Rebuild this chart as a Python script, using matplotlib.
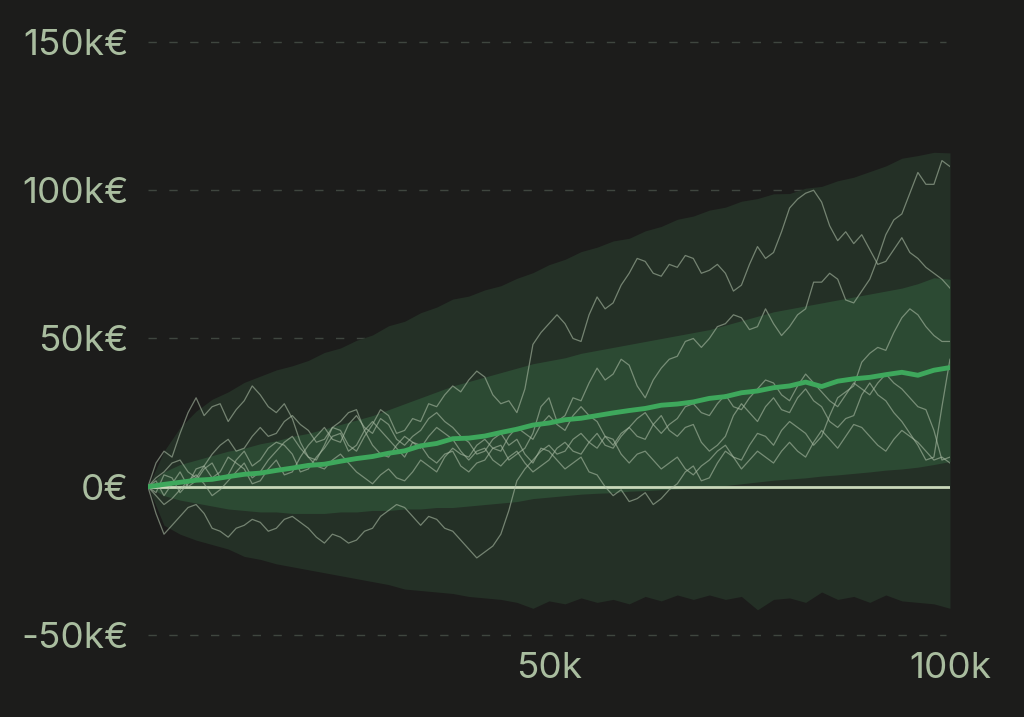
import matplotlib
matplotlib.use("Agg")
import matplotlib.pyplot as plt
from matplotlib.ticker import FuncFormatter

# x positions (thousands): bands / mean every 2k, sample paths every 1k
steps = list(range(0, 101, 2))
walk_x = list(range(0, 101))

# percentile bands (k€)
outer_hi = [0, 12, 20, 25.5, 29.5, 32, 35.2, 37.3, 39.4, 40.8, 42.6, 45.3, 46.8, 49.4, 51.2, 54.3,
            55.8, 58.7, 60.6, 63.3, 64.3, 66.4, 67.8, 70.3, 72.2, 74.9, 76.7, 79.3, 80.8, 82.9, 83.8,
            86.3, 87.8, 90.2, 91.3, 93.3, 94.3, 96.3, 97.2, 98.8, 98.9, 100.7, 101.3, 103.2, 104.4,
            106.3, 108.2, 110.8, 111.7, 112.8, 112.6]
outer_lo = [0, -13, -16, -18, -19.5, -21, -23.5, -24.5, -26, -27, -28, -29, -30, -31, -32, -33,
            -34.5, -35, -35.5, -36, -37, -37.5, -38, -39, -41, -38.5, -39.5, -37.5, -39, -38, -39.5,
            -37, -38.5, -36.5, -38, -36.5, -38, -37, -41.5, -38, -37.5, -39, -35.5, -38, -37, -39,
            -36.5, -38.5, -39, -39.5, -41]
inner_hi = [0, 5, 7.5, 9, 10.5, 12, 13, 14.5, 15.5, 17, 18, 19.5, 21, 22.5, 24, 26, 28, 30, 32, 34,
            35.5, 37, 38.5, 40, 41.5, 42.5, 43.5, 45, 46, 47, 48, 49, 50, 51, 52, 53, 54.5, 56, 57.5,
            59, 60, 61, 62, 63, 64, 65, 66, 67, 68.5, 70.5, 70]
inner_lo = [0, -3, -4.5, -5.5, -6.5, -7.5, -8, -8.5, -8.5, -9, -9, -9, -8.5, -8.5, -8, -8, -7.5,
            -7.5, -7, -7, -6.5, -6, -5.5, -5, -4, -3.5, -3, -2.5, -2.2, -2, -1.5, -1.3, -1, -0.8,
            -0.5, -0.2, 0.4, 1, 1.6, 2.2, 2.6, 3, 3.6, 4, 4.5, 5, 5.6, 6, 6.6, 7.5, 8.5]

# mean path (k€)
mean_path = [0, 0.8, 1.5, 2.2, 2.5, 3.4, 4.2, 4.6, 5.5, 6.3, 7.2, 7.6, 8.6, 9.5, 10.2, 11.3, 12.1,
             13.8, 14.6, 16.2, 16.4, 17.1, 18.3, 19.4, 20.8, 21.5, 22.6, 23.1, 24.0, 24.9, 25.7,
             26.4, 27.5, 27.9, 28.6, 29.8, 30.4, 31.7, 32.3, 33.4, 34.0, 35.3, 33.8, 35.6, 36.4,
             36.9, 37.8, 38.6, 37.6, 39.3, 40.2]

# sample paths (k€)
walk_a = [0, 8, 12, 10, 18, 25, 30, 24, 27, 28,
          22, 26, 29, 34, 31, 27, 25, 28, 23, 15,
          10, 9, 14, 20, 19, 14, 12, 17, 21, 26,
          24, 18, 19, 23, 22, 28, 27, 31, 34, 32,
          36, 39, 37, 31, 28, 29, 25, 33, 48, 52,
          55, 58, 55, 50, 49, 58, 64, 60, 62, 68,
          72, 77, 76, 72, 71, 75, 74, 78, 77, 72,
          73, 75, 72, 66, 68, 75, 81, 77, 79, 86,
          94, 97, 99, 100, 96, 88, 83, 86, 82, 85,
          80, 75, 76, 80, 84, 79, 77, 74, 72, 70, 67]
walk_b = [0, 2, -3, 1, 5, 0, 2, 6, 8, 3,
          4, 9, 12, 7, 9, 13, 15, 14, 11, 5,
          6, 10, 13, 17, 18, 12, 14, 19, 22, 19,
          16, 13, 10, 15, 14, 10, 8, 11, 12, 7,
          5, 8, 9, 13, 14, 9, 11, 13, 18, 27,
          30, 22, 24, 30, 29, 35, 40, 36, 38, 43,
          41, 34, 30, 36, 40, 43, 44, 49, 50, 47,
          50, 54, 55, 58, 57, 53, 54, 60, 55, 51,
          54, 58, 60, 69, 69, 72, 70, 63, 62, 66,
          70, 77, 85, 90, 92, 99, 106, 102, 102, 110, 108]
walk_c = [0, -2, 4, 3, -2, 1, 6, 7, 3, 5,
          10, 8, 6, 1, 2, 6, 9, 4, 5, 10,
          14, 17, 20, 16, 15, 21, 24, 20, 18, 23,
          21, 16, 14, 17, 19, 23, 25, 22, 20, 17,
          15, 11, 12, 16, 18, 14, 16, 11, 8, 13,
          12, 9, 6, 8, 10, 5, 4, 0, -3, -1,
          -5, -4, -2, -6, -4, -1, 1, 5, 7, 2,
          3, 8, 12, 10, 9, 14, 18, 17, 14, 19,
          22, 20, 18, 14, 17, 24, 30, 32, 34, 42,
          45, 47, 46, 52, 57, 60, 58, 54, 51, 49, 49]
walk_d = [0, -3, -6, -4, -1, 2, 4, 1, -3, -1,
          2, 5, 8, 3, 5, 9, 12, 15, 17, 13,
          10, 7, 6, 9, 11, 8, 5, 3, 1, 4,
          6, 3, 2, 5, 9, 7, 5, 10, 13, 11,
          10, 14, 16, 13, 12, 17, 20, 18, 16, 21,
          24, 21, 19, 24, 27, 24, 22, 17, 14, 18,
          20, 17, 16, 21, 24, 19, 17, 20, 21, 15,
          12, 14, 17, 24, 28, 25, 22, 27, 30, 26,
          25, 30, 33, 29, 27, 22, 20, 23, 24, 31,
          35, 31, 29, 25, 22, 18, 14, 9, 10, 27, 43]
walk_e = [0, 3, 5, 8, 9, 5, 3, 7, 11, 14,
          16, 12, 13, 17, 20, 17, 18, 22, 24, 21,
          19, 15, 16, 20, 22, 25, 26, 19, 14, 11,
          10, 14, 17, 15, 13, 17, 20, 18, 16, 12,
          9, 12, 13, 9, 7, 10, 12, 8, 5, 7,
          9, 13, 15, 12, 11, 15, 18, 14, 13, 17,
          20, 23, 25, 21, 18, 21, 23, 27, 28, 25,
          24, 28, 31, 27, 26, 30, 33, 36, 35, 31,
          29, 34, 38, 35, 32, 29, 27, 31, 35, 33,
          31, 35, 38, 35, 33, 30, 27, 26, 19, 9, 10]
walk_f = [0, -9, -16, -13, -10, -7, -6, -9, -14, -15,
          -17, -14, -13, -11, -12, -15, -14, -11, -10, -12,
          -14, -17, -19, -16, -17, -19, -18, -15, -14, -10,
          -8, -6, -7, -10, -13, -10, -11, -14, -15, -18,
          -21, -24, -22, -20, -16, -8, 2, 6, 9, 12,
          14, 11, 12, 16, 18, 15, 13, 17, 16, 11,
          8, 11, 12, 9, 6, 8, 10, 6, 4, 7,
          9, 12, 14, 10, 6, 9, 12, 10, 8, 12,
          15, 12, 10, 15, 19, 16, 13, 17, 21, 20,
          17, 14, 12, 16, 19, 17, 15, 12, 9, 10, 8]
walks = [walk_a, walk_b, walk_c, walk_d, walk_e, walk_f]

y_ticks = [-50, 0, 50, 100, 150]
x_ticks = [50, 100]

bg = "#1c1c1b"
label_col = "#a9bd9f"

fig = plt.figure(figsize=(10.24, 7.17), dpi=100, facecolor=bg)
ax = fig.add_axes([0.1445, 0.1061, 0.7832, 0.8436], facecolor=bg)

ax.fill_between(steps, outer_lo, outer_hi, color="#243026", lw=0, zorder=1)
ax.fill_between(steps, inner_lo, inner_hi, color="#2c4a33", lw=0, zorder=2)

# dashed grid, solid zero line
for g in y_ticks:
    if g != 0:
        ax.axhline(g, color="#3f463f", lw=1, ls=(0, (6, 9)), zorder=0.5, xmax=0.995)
ax.axhline(0, color="#c9d8ba", lw=2, zorder=3)

for w in walks:
    ax.plot(walk_x, w, color="#aabba4", alpha=0.6, lw=0.9, zorder=4)

ax.plot(steps, mean_path, color="#3ea85c", lw=3.5, zorder=5, solid_capstyle="round")

ax.set_xlim(0, 100)
ax.set_ylim(-52, 152)
ax.set_yticks(y_ticks)
ax.set_xticks(x_ticks)
ax.yaxis.set_major_formatter(FuncFormatter(lambda v, p: "0€" if v == 0 else f"{int(v)}k€"))
ax.xaxis.set_major_formatter(FuncFormatter(lambda v, p: f"{int(v)}k"))
ax.tick_params(axis="both", length=0, colors=label_col, labelsize=26.5)
ax.tick_params(axis="y", pad=14)
ax.tick_params(axis="x", pad=8)
for lab in ax.get_xticklabels() + ax.get_yticklabels():
    lab.set_fontfamily("Inter")
for s in ax.spines.values():
    s.set_visible(False)

fig.savefig("out.png", dpi=100, facecolor=bg)
